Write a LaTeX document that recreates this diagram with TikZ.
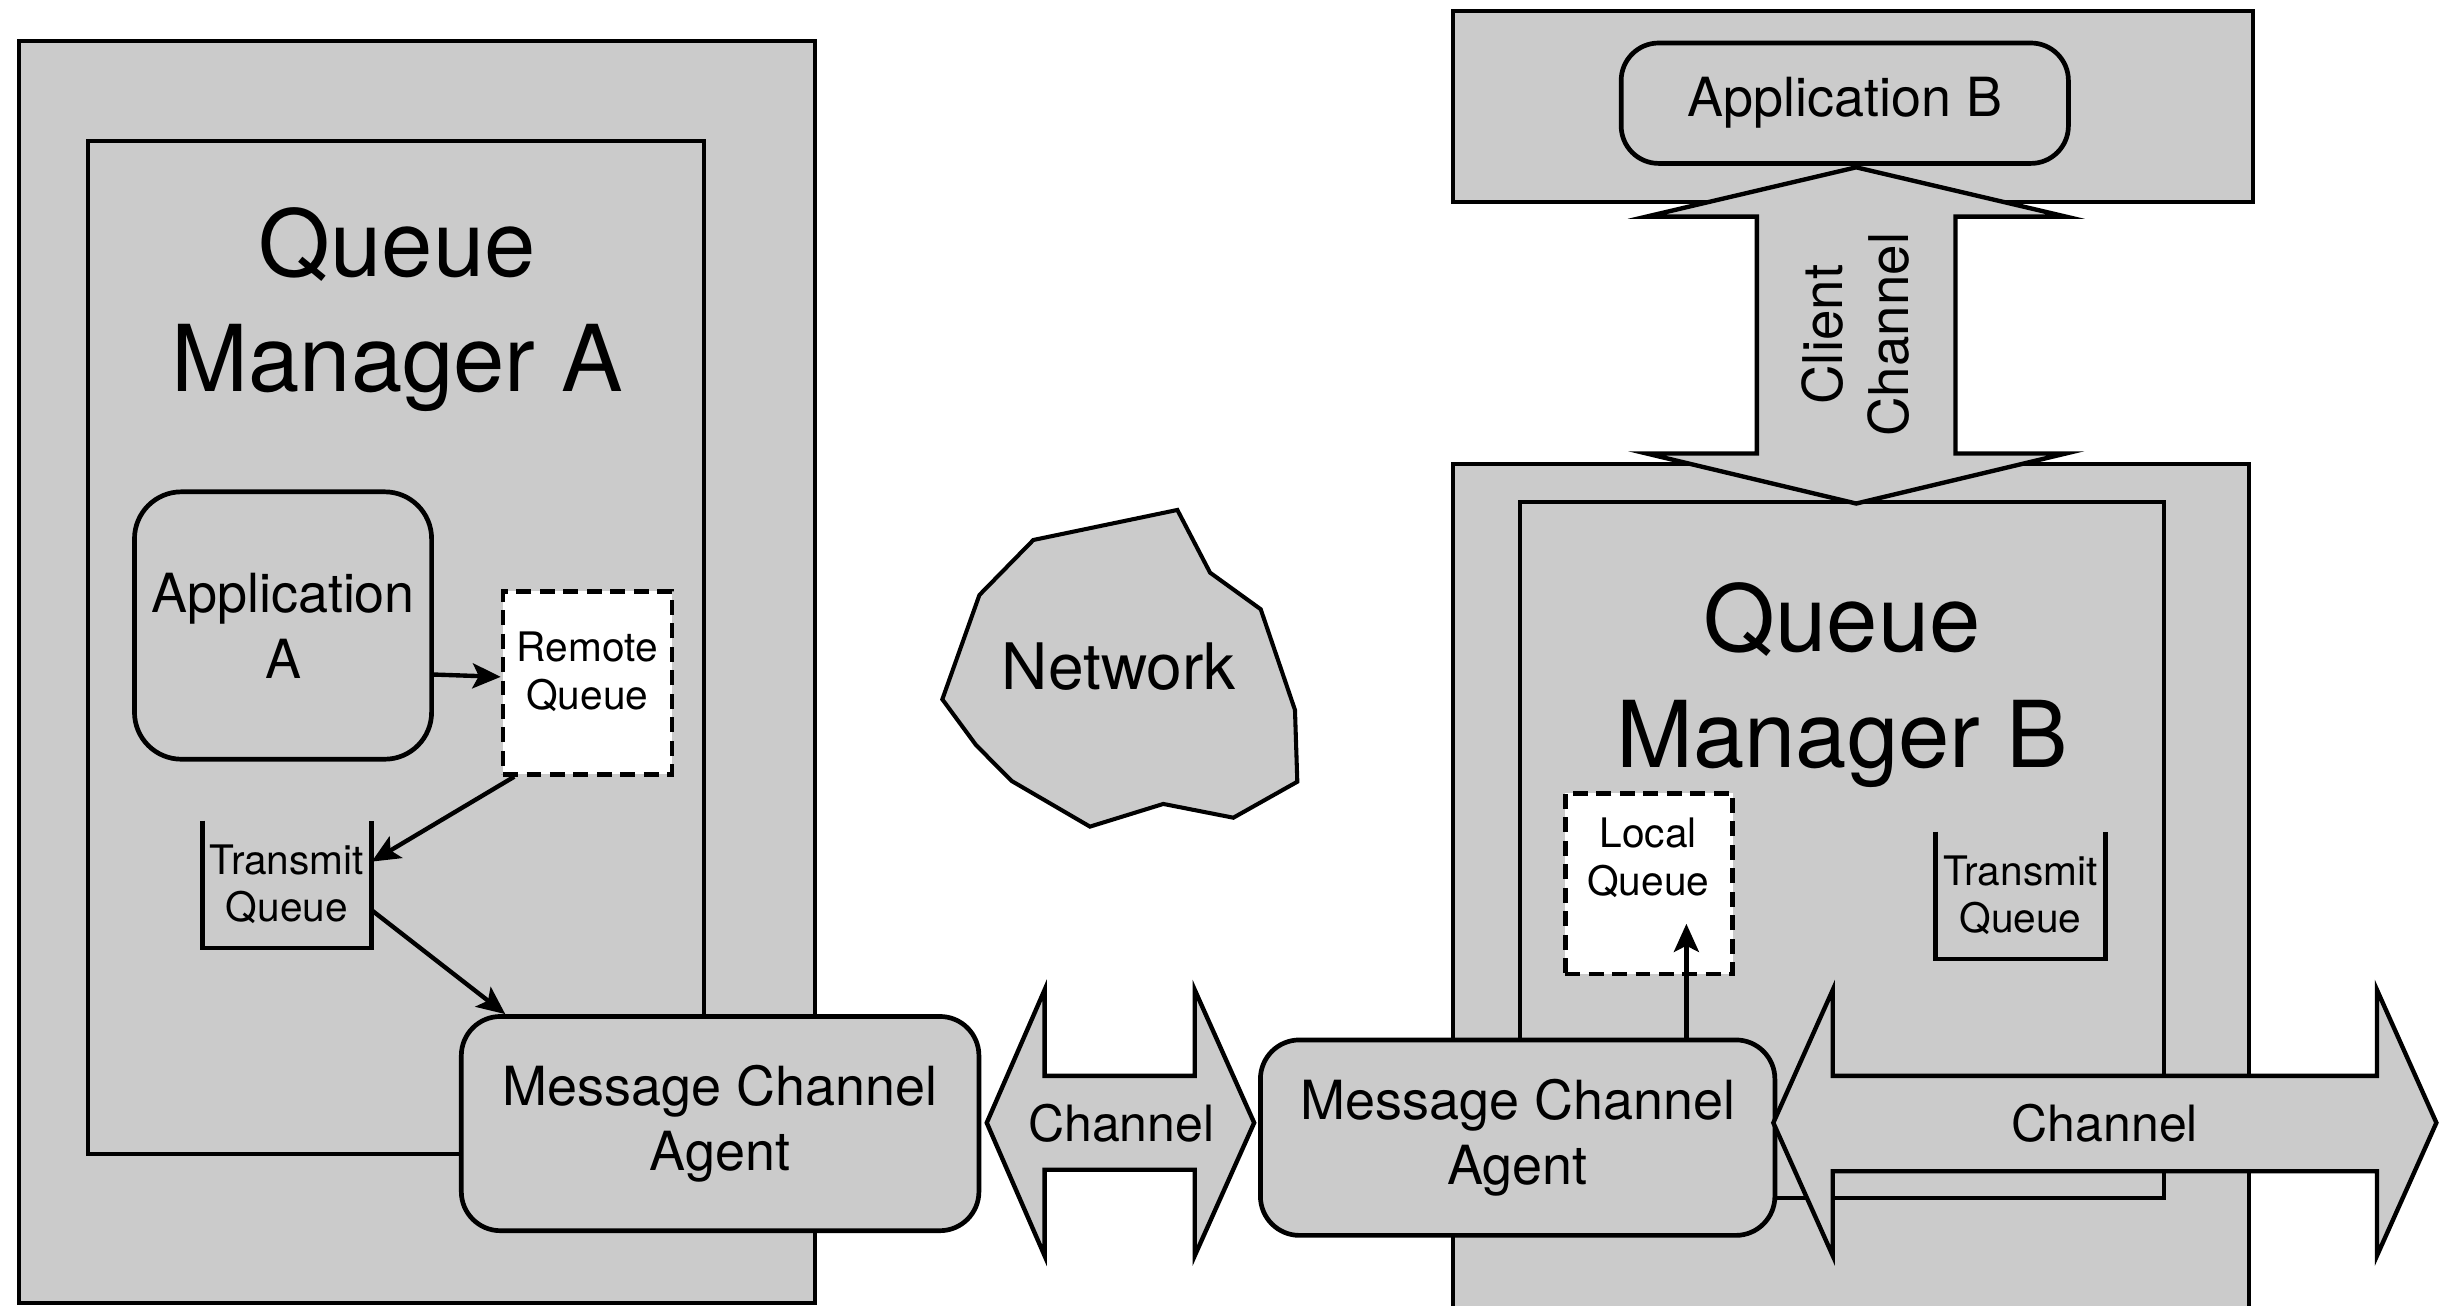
\documentclass[tikz,border=0pt]{standalone}
\usepackage{fontspec}
\setmainfont{TeX Gyre Heros}
\usetikzlibrary{arrows.meta}
\definecolor{mqgray}{RGB}{203,203,203}
\begin{document}
\begin{tikzpicture}[x=1pt,y=-1pt,
        panel/.style={draw,fill=mqgray,line width=2.6pt},
        rbox/.style={panel,line width=3pt,rounded corners=25pt,inner sep=0pt,align=center,font=\fontsize{34.5}{42}\selectfont},
        qbox/.style={draw,fill=white,line width=3pt,dash pattern=on 9.5pt off 5.5pt,inner sep=0pt},
        qtext/.style={align=center,font=\fontsize{26}{30.5}\selectfont},
        tq/.style={qtext,inner sep=0pt,minimum width=108pt,minimum height=81pt},
        qmtitle/.style={align=center,font=\fontsize{59}{74}\selectfont},
        chantext/.style={font=\fontsize{32}{38}\selectfont},
        chanarrow/.style={panel,line width=2.8pt},
        msgarrow/.style={line width=2.8pt,-{Stealth[length=18pt,width=16pt,inset=4pt]}},
        bucket/.style={line width=3pt}]
    \useasboundingbox (0,0) rectangle (1568,835);
    \filldraw[panel] (12,26) rectangle (521,833);
    \filldraw[panel] (56,90) rectangle (450,738);
    \node[qmtitle] (qmA) at (254,198) {Queue\\Manager A};
    \node[rbox,rounded corners=30pt,minimum width=190pt,minimum height=171pt] (appA) at (181,400) {Application\\A};
    \node[qbox,minimum width=108pt,minimum height=117pt] (rq) at (375.7,436.7) {};
    \node[qtext] (rqtext) at (375.5,429.8) {Remote\\Queue};
    \node[tq] (tqA) at (183.5,565.5) {Transmit\\Queue};
    \draw[bucket] (tqA.north west) -- (tqA.south west) -- (tqA.south east) -- (tqA.north east);
    \node[rbox,minimum width=331pt,minimum height=137pt] (mcaA) at (460.5,718.5) {Message Channel\\Agent};
    \draw[msgarrow] (appA.-18) -- (rq.176);
    \draw[msgarrow] (rq.-128) -- (tqA.15);
    \draw[msgarrow] (tqA.-17) -- (mcaA.153);

    \filldraw[panel] (660.8,345.3) -- (752.9,326.1) -- (773.8,366.2) -- (806.2,389.6) -- (828.1,454) -- (829.6,499.9) -- (788.7,522.9)
        -- (743.9,514.1) -- (697,528.6) -- (646.9,499.4) -- (624.1,476.4) -- (602.6,447.2) -- (626.3,380.5) -- cycle;
    \node[font=\fontsize{41}{49}\selectfont] (net) at (715.5,426.5) {Network};

    \filldraw[chanarrow] (631,718) -- (668,633) -- (668,688) -- (764,688) -- (764,633) -- (802,718)
        -- (764,803) -- (764,748) -- (668,748) -- (668,803) -- cycle;
    \node[chantext] (chA) at (717,718) {Channel};

    \filldraw[panel] (929,7) rectangle (1441,129);
    \node[rbox,rounded corners=24pt,minimum width=286pt,minimum height=77pt] (appB) at (1179.7,66) {Application B};
    \filldraw[panel] (929,297) rectangle (1438,850);
    \filldraw[panel] (972,321) rectangle (1384,766);
    \node[qmtitle] (qmB) at (1178,438.3) {Queue\\Manager B};
    \node[qbox,minimum width=107pt,minimum height=115.5pt] (lq) at (1054.4,565) {};
    \node[qtext] (lqtext) at (1054,548.7) {Local\\Queue};
    \node[tq] (tqB) at (1292,572.5) {Transmit\\Queue};
    \draw[bucket] (tqB.north west) -- (tqB.south west) -- (tqB.south east) -- (tqB.north east);
    \node[rbox,minimum width=329pt,minimum height=125pt] (mcaB) at (970.5,727.5) {Message Channel\\Agent};
    \coordinate (lqin) at ([xshift=24pt,yshift=33.5pt]lq.south);
    \draw[msgarrow] (mcaB.north -| lqin) -- (lqin);

    \filldraw[chanarrow] (1134,718) -- (1172,633) -- (1172,688) -- (1520,688) -- (1520,633) -- (1558,718)
        -- (1520,803) -- (1520,749) -- (1172,749) -- (1172,803) -- cycle;
    \node[chantext] (chB) at (1346,718) {Channel};

    \filldraw[chanarrow] (1187,107) -- (1321,138.5) -- (1250.5,138.5) -- (1250.5,290) -- (1321,290) -- (1187,322)
        -- (1053,290) -- (1123.5,290) -- (1123.5,138.5) -- (1053,138.5) -- cycle;
    \node[chantext,font=\fontsize{35}{42}\selectfont,align=center,rotate=90] (cc) at (1186.5,214) {Client\\Channel};
\end{tikzpicture}
\end{document}
